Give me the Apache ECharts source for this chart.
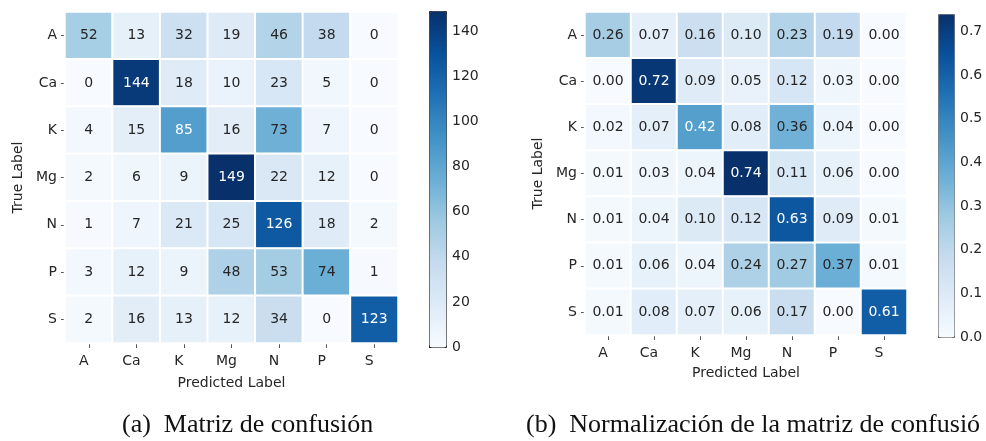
<!DOCTYPE html>
<html>
<head>
<meta charset="utf-8">
<script src="https://cdn.jsdelivr.net/npm/echarts@6/dist/echarts.min.js"></script>
<style>
  html, body { margin: 0; padding: 0; background: #ffffff; }
  #chart { width: 986px; height: 441px; }
</style>
</head>
<body>
<div id="chart"></div>
<script>
// Class labels shared by both matrices (rows = true, columns = predicted)
const classes = ['A', 'Ca', 'K', 'Mg', 'N', 'P', 'S'];

// Raw confusion-matrix counts
const countsA  = [52, 13, 32, 19, 46, 38, 0];
const countsCa = [0, 144, 18, 10, 23, 5, 0];
const countsK  = [4, 15, 85, 16, 73, 7, 0];
const countsMg = [2, 6, 9, 149, 22, 12, 0];
const countsN  = [1, 7, 21, 25, 126, 18, 2];
const countsP  = [3, 12, 9, 48, 53, 74, 1];
const countsS  = [2, 16, 13, 12, 34, 0, 123];

// Row-normalised matrix
const normA  = [0.26, 0.07, 0.16, 0.10, 0.23, 0.19, 0.00];
const normCa = [0.00, 0.72, 0.09, 0.05, 0.12, 0.03, 0.00];
const normK  = [0.02, 0.07, 0.42, 0.08, 0.36, 0.04, 0.00];
const normMg = [0.01, 0.03, 0.04, 0.74, 0.11, 0.06, 0.00];
const normN  = [0.01, 0.04, 0.10, 0.12, 0.63, 0.09, 0.01];
const normP  = [0.01, 0.06, 0.04, 0.24, 0.27, 0.37, 0.01];
const normS  = [0.01, 0.08, 0.07, 0.06, 0.17, 0.00, 0.61];

// Colour-bar ranges and tick steps
const countsMax = 149;
const countsStep = 20;
const normMax = 0.74;
const normStep = 0.1;

const countRows = [countsA, countsCa, countsK, countsMg, countsN, countsP, countsS];
const normRows = [normA, normCa, normK, normMg, normN, normP, normS];

// Matplotlib "Blues" colormap stops
const blues = ['#f7fbff', '#deebf7', '#c6dbef', '#9ecae1', '#6baed6',
               '#4292c6', '#2171b5', '#08519c', '#08306b'];

const FONT = 'DejaVu Sans';
const TXT = '#262626';
const FS = 14;

function cells(rows, vmax, digits) {
  const out = [];
  rows.forEach((row, r) => {
    row.forEach((v, c) => {
      out.push({
        value: [c, r, v],
        label: {
          color: v / vmax > 0.53 ? '#ffffff' : TXT,
          formatter: () => v.toFixed(digits)
        }
      });
    });
  });
  return out;
}

function heatAxes(gridIndex, nameGapX) {
  return {
    x: {
      type: 'category', gridIndex, data: classes,
      axisLine: { show: false },
      axisTick: { show: true, alignWithLabel: true, length: 5, lineStyle: { color: '#555' } },
      axisLabel: { color: TXT, fontFamily: FONT, fontSize: FS, margin: 11, padding: [0, 10, 0, 0] },
      splitLine: { show: false },
      name: 'Predicted Label', nameLocation: 'middle', nameGap: nameGapX,
      nameTextStyle: { color: TXT, fontFamily: FONT, fontSize: FS }
    },
    y: {
      type: 'category', gridIndex, data: classes, inverse: true,
      axisLine: { show: false },
      axisTick: { show: true, alignWithLabel: true, length: 4, lineStyle: { color: '#555' } },
      axisLabel: { color: TXT, fontFamily: FONT, fontSize: FS, margin: 8 },
      splitLine: { show: false },
      name: 'True Label', nameLocation: 'middle', nameGap: 40, nameRotate: 90,
      nameTextStyle: { color: TXT, fontFamily: FONT, fontSize: FS }
    }
  };
}

function barAxis(gridIndex, max, step, digits) {
  return {
    type: 'value', gridIndex, position: 'right', min: 0, max, interval: step,
    axisLine: { show: false },
    axisTick: { show: true, length: 4, lineStyle: { color: '#333' } },
    axisLabel: {
      color: TXT, fontFamily: FONT, fontSize: FS, margin: 6,
      formatter: v => v.toFixed(digits), showMaxLabel: false
    },
    splitLine: { show: false }
  };
}

const A = heatAxes(0, 33);
const B = heatAxes(1, 31);

const chart = echarts.init(document.getElementById('chart'), null, { renderer: 'canvas' });

chart.setOption({
  backgroundColor: '#ffffff',
  animation: false,
  grid: [
    { left: 65, top: 12, width: 333, height: 331 },
    { left: 585, top: 12, width: 322, height: 323 },
    { left: 429, top: 11, width: 17, height: 336 },
    { left: 938, top: 14, width: 16, height: 323 }
  ],
  xAxis: [
    A.x, B.x,
    { type: 'value', gridIndex: 2, show: false },
    { type: 'value', gridIndex: 3, show: false }
  ],
  yAxis: [
    A.y, B.y,
    barAxis(2, countsMax, countsStep, 0),
    barAxis(3, normMax, normStep, 1)
  ],
  visualMap: [
    {
      type: 'continuous', seriesIndex: 0, min: 0, max: countsMax,
      calculable: false, show: true, text: null, showLabel: false,
      left: 429, top: 11, itemWidth: 17, itemHeight: 336, padding: 0,
      borderColor: '#222', borderWidth: 1,
      inRange: { color: blues }
    },
    {
      type: 'continuous', seriesIndex: 1, min: 0, max: normMax,
      calculable: false, show: true, text: null, showLabel: false,
      left: 938, top: 14, itemWidth: 16, itemHeight: 323, padding: 0,
      borderColor: '#666', borderWidth: 1,
      inRange: { color: blues }
    }
  ],
  series: [
    {
      type: 'heatmap', xAxisIndex: 0, yAxisIndex: 0,
      data: cells(countRows, countsMax, 0),
      label: { show: true, fontFamily: FONT, fontSize: FS },
      itemStyle: { borderColor: '#ffffff', borderWidth: 2 }
    },
    {
      type: 'heatmap', xAxisIndex: 1, yAxisIndex: 1,
      data: cells(normRows, normMax, 2),
      label: { show: true, fontFamily: FONT, fontSize: FS },
      itemStyle: { borderColor: '#ffffff', borderWidth: 2 }
    }
  ],
  graphic: [
    {
      type: 'text', left: 122, top: 412,
      style: { text: '(a)  Matriz de confusión', font: '26px "Liberation Serif"', fill: '#111' }
    },
    {
      type: 'text', left: 526, top: 412,
      style: { text: '(b)  Normalización de la matriz de confusió', font: '26px "Liberation Serif"', fill: '#111' }
    }
  ]
});
</script>
</body>
</html>
